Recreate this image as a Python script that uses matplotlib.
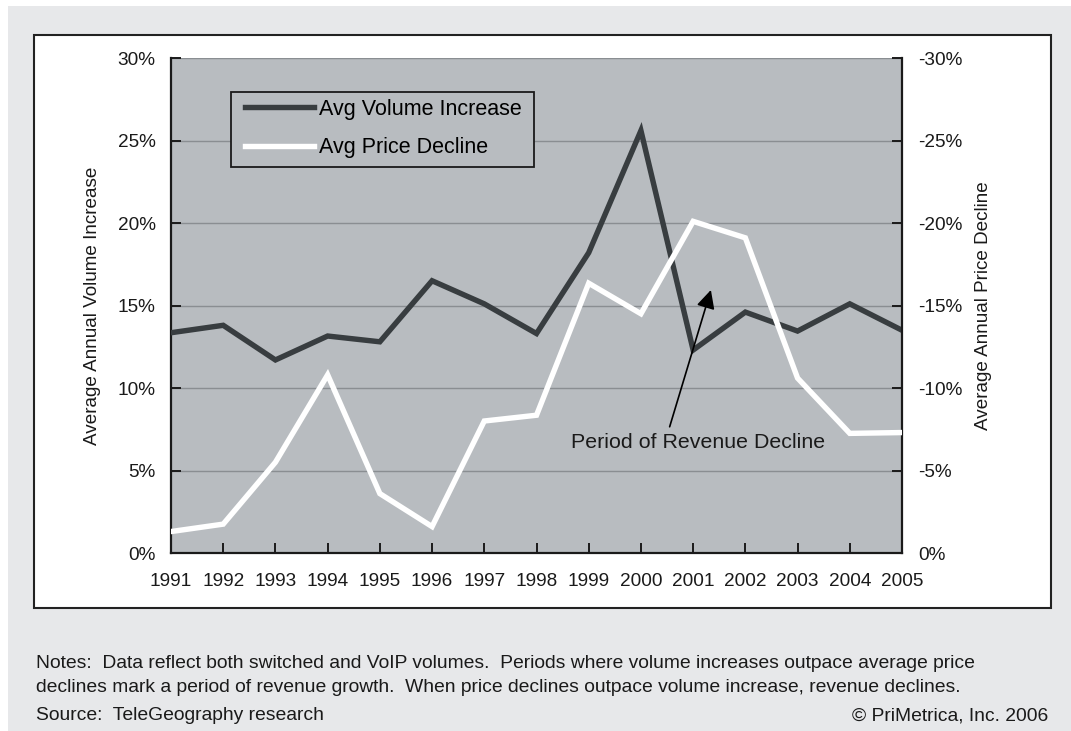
import matplotlib
matplotlib.use("Agg")
import matplotlib.pyplot as plt
from matplotlib import font_manager
from matplotlib.patches import Rectangle

years = [1991, 1992, 1993, 1994, 1995, 1996, 1997, 1998, 1999, 2000, 2001, 2002, 2003, 2004, 2005]
volume_increase = [13.35, 13.8, 11.7, 13.15, 12.8, 16.5, 15.1, 13.3, 18.2, 25.6, 12.3, 14.6, 13.45, 15.1, 13.5]
price_decline = [-1.3, -1.75, -5.5, -10.8, -3.6, -1.6, -8.0, -8.35, -16.35, -14.5, -20.1, -19.1, -10.6, -7.25, -7.3]
left_ticks = [0, 5, 10, 15, 20, 25, 30]
right_ticks = [0, -5, -10, -15, -20, -25, -30]

names = {f.name for f in font_manager.fontManager.ttflist}
FONT = "Liberation Sans Narrow" if "Liberation Sans Narrow" in names else "Liberation Sans"
plt.rcParams["font.family"] = [FONT, "DejaVu Sans"]

W, H = 1071, 731
BG = "#e7e8ea"
PLOT_BG = "#b8bcc0"
DARK = "#383d40"
GRID = "#8a8e92"
TXT = "#1a1a1a"

fig = plt.figure(figsize=(W/100, H/100), dpi=100)
fig.patch.set_facecolor("white")

# light gray page area (thin white strip at top and left)
fig.patches.append(Rectangle((8/W, 0), 1 - 8/W, 1 - 6/H, transform=fig.transFigure,
                             facecolor=BG, edgecolor="none", zorder=-20))
# white panel behind the chart
fig.patches.append(Rectangle((34/W, 1-608/H), (1051-34)/W, (608-35)/H,
                             transform=fig.transFigure, facecolor="white",
                             edgecolor="#222222", linewidth=1.5, zorder=-10))

L, R, T, B = 171, 902, 58, 553
ax = fig.add_axes([L/W, 1-B/H, (R-L)/W, (B-T)/H])
ax.set_facecolor(PLOT_BG)
ax2 = ax.twinx()

ax.set_xlim(years[0], years[-1])
ax.set_ylim(0, 30)
ax2.set_ylim(0, -30)

ax.set_yticks(left_ticks)
ax.set_yticklabels([f"{t}%" for t in left_ticks])
ax2.set_yticks(right_ticks)
ax2.set_yticklabels([f"{t}%" for t in right_ticks])
ax.set_xticks(years)
ax.set_xticklabels([str(y) for y in years])

ax.grid(axis="y", color=GRID, linewidth=1.0)
ax.set_axisbelow(True)

for a in (ax, ax2):
    for s in a.spines.values():
        s.set_visible(False)
ax.spines["left"].set_visible(True)
ax.spines["bottom"].set_visible(True)
ax2.spines["right"].set_visible(True)
for s in (ax.spines["left"], ax.spines["bottom"], ax2.spines["right"]):
    s.set_linewidth(1.6)
    s.set_color(TXT)

ax.tick_params(axis="both", direction="in", length=7, width=1.4, labelsize=13.7, colors=TXT)
ax.tick_params(axis="y", pad=11)
ax.tick_params(axis="x", pad=14.2)
ax2.tick_params(axis="y", direction="in", length=7, width=1.4, labelsize=13.7, colors=TXT, pad=11.5)

l1, = ax.plot(years, volume_increase, color=DARK, linewidth=3.9, solid_joinstyle="miter", zorder=3)
l2, = ax2.plot(years, price_decline, color="white", linewidth=3.9, solid_joinstyle="miter", zorder=3)

ymid = 1 - (T + B) / 2 / H
fig.text(93/W, ymid, "Average Annual Volume Increase", rotation=90, fontsize=13.6,
         ha="center", va="center", color=TXT)
fig.text(983.5/W, ymid, "Average Annual Price Decline", rotation=90, fontsize=13.6,
         ha="center", va="center", color=TXT)

# legend frame drawn separately for exact size
ax2.add_patch(Rectangle(((230.7-L)/(R-L), (B-167)/(B-T)), 303/(R-L), 75/(B-T),
                        transform=ax2.transAxes, facecolor=PLOT_BG, edgecolor=TXT,
                        linewidth=1.3, zorder=5))
leg = ax2.legend([l1, l2], ["Avg Volume Increase", "Avg Price Decline"],
                 loc="upper left", bbox_to_anchor=((244.5-L)/(R-L), (B-99)/(B-T)),
                 fontsize=15.5, frameon=False, handlelength=3.25,
                 borderaxespad=0, borderpad=0, labelspacing=0.8, handletextpad=0.2)
leg.set_zorder(6)

ax2.annotate("", xy=(2001.34, -15.94), xytext=(2000.55, -7.65),
             arrowprops=dict(arrowstyle="-|>", color="black", lw=1.2, mutation_scale=28,
                             shrinkA=0, shrinkB=0), zorder=4)
ax2.text(2001.09, -6.67, "Period of Revenue Decline", fontsize=15.4, ha="center", va="center",
         color=TXT, zorder=4)

fs = 13.9
fig.text(36/W, 1-663/H, "Notes:  Data reflect both switched and VoIP volumes.  Periods where volume increases outpace average price",
         fontsize=fs, va="center", ha="left", color=TXT)
fig.text(36/W, 1-688/H, "declines mark a period of revenue growth.  When price declines outpace volume increase, revenue declines.",
         fontsize=fs, va="center", ha="left", color=TXT)
fig.text(36/W, 1-716/H, "Source:  TeleGeography research",
         fontsize=fs, va="center", ha="left", color=TXT)
fig.text(1048/W, 1-716/H, "\u00a9 PriMetrica, Inc. 2006",
         fontsize=fs, va="center", ha="right", color=TXT)

fig.savefig("out.png", dpi=100, facecolor=fig.get_facecolor())
